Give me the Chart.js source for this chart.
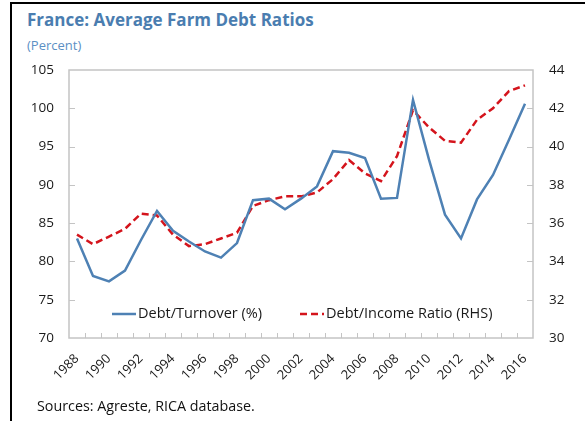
<!DOCTYPE html>
<html>
<head>
<meta charset="utf-8">
<script src="https://cdn.jsdelivr.net/npm/chart.js@4.4.1/dist/chart.umd.min.js"></script>
<style>
  html, body { margin: 0; padding: 0; background: #fff; }
  #wrap { position: relative; width: 585px; height: 421px; overflow: hidden; font-family: "Open Sans", sans-serif; }
  #frameL { position: absolute; left: 10px; top: 3px; width: 2px; height: 418px; background: #000; }
  #frameT { position: absolute; left: 10px; top: 2px; width: 575px; height: 2px; background: #000; }
  #title { position: absolute; left: 27px; top: 8px; font-size: 17px; font-weight: bold; color: #4a7db0; white-space: nowrap; }
  #sub { position: absolute; left: 27px; top: 36px; font-size: 13px; color: #5b8fc4; }
  #src { position: absolute; left: 37px; top: 396px; font-size: 14.3px; color: #111; white-space: nowrap; }
  canvas { position: absolute; left: 0; top: 0; }
</style>
</head>
<body>
<div id="wrap">
  <div id="frameL"></div>
  <div id="frameT"></div>
  <div id="title">France: Average Farm Debt Ratios</div>
  <div id="sub">(Percent)</div>
  <canvas id="c" width="585" height="421"></canvas>
  <div id="src">Sources: Agreste, RICA database.</div>
</div>
<script>
// data
const years = ['1988','1989','1990','1991','1992','1993','1994','1995','1996','1997',
  '1998','1999','2000','2001','2002','2003','2004','2005','2006','2007',
  '2008','2009','2010','2011','2012','2013','2014','2015','2016'];
const debtTurnover = [83.0, 78.1, 77.4, 78.8, 82.8, 86.6, 84.0, 82.6, 81.3, 80.5,
  82.4, 88.0, 88.2, 86.8, 88.2, 89.8, 94.4, 94.2, 93.5, 88.2,
  88.3, 101.1, 93.3, 86.1, 83.0, 88.1, 91.3, 95.9, 100.6];
const debtIncome = [35.4, 34.9, 35.3, 35.7, 36.5, 36.4, 35.4, 34.8, 34.9, 35.2,
  35.5, 36.9, 37.2, 37.4, 37.4, 37.6, 38.3, 39.3, 38.6, 38.2,
  39.5, 41.9, 41.0, 40.3, 40.2, 41.4, 42.0, 42.9, 43.2];
const leftTicks = [70, 105, 5];
const rightTicks = [30, 44, 2];

const blue = '#4e81b4';
const red = '#d4141c';
const frameGrey = '#c4c4c4';

// box, inside tick marks and the in-plot legend
const framePlugin = {
  id: 'framePlugin',
  afterDatasetsDraw(chart) {
    const ctx = chart.ctx;
    const a = chart.chartArea;
    const x = chart.scales.x, y = chart.scales.y;
    ctx.save();
    ctx.strokeStyle = frameGrey;
    ctx.lineWidth = 1.5;
    ctx.strokeRect(a.left, a.top, a.right - a.left, a.bottom - a.top);
    ctx.lineWidth = 1;
    ctx.beginPath();
    const n = years.length;
    const step = (a.right - a.left) / n;
    for (let i = 1; i < n; i++) {
      const px = Math.round(x.getPixelForValue(i) - step / 2) + 0.5;
      ctx.moveTo(px, a.bottom);
      ctx.lineTo(px, a.bottom - 5);
    }
    y.ticks.forEach((t, i) => {
      const py = Math.round(y.getPixelForTick(i)) + 0.5;
      if (py <= a.top + 1 || py >= a.bottom - 1) return;
      ctx.moveTo(a.left, py); ctx.lineTo(a.left + 6, py);
      ctx.moveTo(a.right, py); ctx.lineTo(a.right - 6, py);
    });
    ctx.stroke();

    // legend
    ctx.font = '14.5px "Open Sans", sans-serif';
    ctx.textBaseline = 'middle';
    ctx.fillStyle = '#1a1a1a';
    const ly = 314;
    const items = [
      { ds: chart.data.datasets[0], x0: 112 },
      { ds: chart.data.datasets[1], x0: 300 }
    ];
    items.forEach(it => {
      ctx.beginPath();
      ctx.strokeStyle = it.ds.borderColor;
      ctx.lineWidth = 2.5;
      ctx.setLineDash(it.ds.borderDash || []);
      ctx.moveTo(it.x0, ly);
      ctx.lineTo(it.x0 + 24, ly);
      ctx.stroke();
      ctx.setLineDash([]);
      ctx.fillText(it.ds.label, it.x0 + 26, ly);
    });
    ctx.restore();
  }
};

new Chart(document.getElementById('c'), {
  type: 'line',
  data: {
    labels: years,
    datasets: [
      {
        label: 'Debt/Turnover (%)',
        data: debtTurnover,
        yAxisID: 'y',
        borderColor: blue,
        borderWidth: 2.5,
        pointRadius: 0,
        tension: 0,
        fill: false
      },
      {
        label: 'Debt/Income Ratio (RHS)',
        data: debtIncome,
        yAxisID: 'y2',
        borderColor: red,
        borderWidth: 2.5,
        borderDash: [7, 4],
        pointRadius: 0,
        tension: 0,
        fill: false
      }
    ]
  },
  options: {
    responsive: false,
    animation: false,
    layout: { padding: { top: 70, left: 0, right: 0, bottom: 0 } },
    plugins: { legend: { display: false }, tooltip: { enabled: false } },
    scales: {
      x: {
        offset: true,
        grid: { display: false, drawTicks: false },
        border: { display: false },
        afterFit(s) { s.height = 83; },
        ticks: {
          autoSkip: false,
          minRotation: 45,
          maxRotation: 45,
          padding: 13,
          color: '#1a1a1a',
          font: { family: 'Open Sans', size: 13 },
          callback(v, i) { return i % 2 === 0 ? years[i] : ''; }
        }
      },
      y: {
        position: 'left',
        min: leftTicks[0], max: leftTicks[1],
        grid: { display: false, drawTicks: false },
        border: { display: false },
        afterFit(s) { s.width = 69; },
        ticks: { stepSize: leftTicks[2], padding: 15, color: '#1a1a1a', font: { family: 'Open Sans', size: 13.5 } }
      },
      y2: {
        position: 'right',
        min: rightTicks[0], max: rightTicks[1],
        grid: { display: false, drawTicks: false },
        border: { display: false },
        afterFit(s) { s.width = 52; },
        ticks: { stepSize: rightTicks[2], padding: 16, color: '#1a1a1a', font: { family: 'Open Sans', size: 13.5 } }
      }
    }
  },
  plugins: [framePlugin]
});
</script>
</body>
</html>
